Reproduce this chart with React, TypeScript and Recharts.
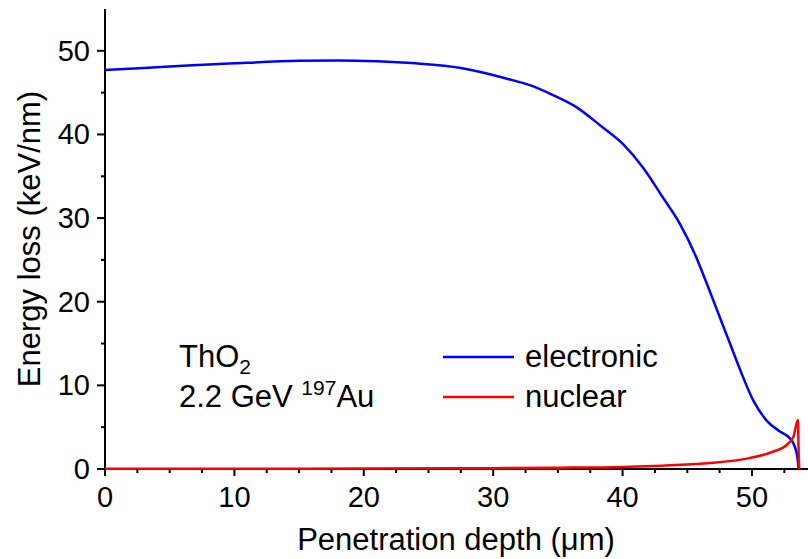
import React from 'react';
import { LineChart, Line, XAxis, YAxis, Legend } from 'recharts';

// Electronic energy loss (keV/nm) vs depth (µm)
const ELEC_X = [0, 3, 6, 10, 15, 18, 21, 24, 27.5, 31, 33, 34.5, 36.4, 38.3, 40, 41.6, 43.1, 44.4, 45.7, 46.5, 47.5, 48.3, 49.1, 50.1, 51.1, 52.2, 52.9, 53.3, 53.5, 53.6];
const ELEC_Y = [47.7, 47.95, 48.2, 48.5, 48.8, 48.85, 48.75, 48.5, 47.95, 46.7, 45.8, 44.8, 43.3, 41.05, 38.9, 36.0, 32.5, 29.4, 25.3, 22.2, 18.2, 15.0, 11.8, 8.2, 5.85, 4.45, 3.7, 2.7, 1.5, 0.1];

// Nuclear energy loss (keV/nm) vs depth (µm)
const NUC_X = [0, 10, 20, 30, 35, 40, 43, 46.5, 49.8, 51.6, 52.7, 53.2, 53.55, 53.6, 53.65];
const NUC_Y = [0.02, 0.03, 0.05, 0.1, 0.15, 0.25, 0.4, 0.68, 1.3, 2.06, 2.9, 3.85, 5.85, 2.5, 0];

const X_TICKS = [0, 2.5, 5, 7.5, 10, 12.5, 15, 17.5, 20, 22.5, 25, 27.5, 30, 32.5, 35, 37.5, 40, 42.5, 45, 47.5, 50, 52.5];
const Y_TICKS = [0, 5, 10, 15, 20, 25, 30, 35, 40, 45, 50];

const elecData = ELEC_X.map((x, i) => ({ x, y: ELEC_Y[i] }));
const nucData = NUC_X.map((x, i) => ({ x, y: NUC_Y[i] }));

const FONT = '"Liberation Sans", Arial, Helvetica, sans-serif';

const XTick = (props: any) => {
  const { x, y, payload } = props;
  const v = payload.value;
  const major = v % 10 === 0;
  return (
    <g>
      <line x1={x} x2={x} y1={y} y2={y + (major ? 7 : 4)} stroke="#000" strokeWidth={2} />
      {major && (
        <text x={x} y={y + 38} textAnchor="middle" fontSize={29} fontFamily={FONT} fill="#000">
          {v}
        </text>
      )}
    </g>
  );
};

const YTick = (props: any) => {
  const { x, y, payload } = props;
  const v = payload.value;
  const major = v % 10 === 0;
  return (
    <g>
      <line x1={x - (major ? 8 : 4)} x2={x} y1={y} y2={y} stroke="#000" strokeWidth={2} />
      {major && (
        <text x={x - 15} y={y + 10} textAnchor="end" fontSize={29} fontFamily={FONT} fill="#000">
          {v}
        </text>
      )}
    </g>
  );
};

const LegendContent = () => {
  const items = [
    { label: 'electronic', color: '#0000ff' },
    { label: 'nuclear', color: '#ff0000' },
  ];
  return (
    <div style={{ fontFamily: FONT }}>
      {items.map((it) => (
        <div key={it.label} style={{ display: 'flex', alignItems: 'center', height: 40 }}>
          <svg width={71} height={40} style={{ display: 'block' }}>
            <line x1={0} x2={71} y1={20} y2={20} stroke={it.color} strokeWidth={2.5} />
          </svg>
          <span style={{ marginLeft: 11, fontSize: 31, lineHeight: '40px', color: '#000', whiteSpace: 'nowrap' }}>{it.label}</span>
        </div>
      ))}
    </div>
  );
};

export default function App() {
  const lineExtra: any = { zIndex: 900 };
  return (
    <div style={{ position: 'absolute', left: 0, top: 0, width: 808, height: 559, background: '#fff' }}>
      <LineChart width={808} height={559} margin={{ top: 9, right: 0, bottom: 0, left: 0 }}>
        <XAxis
          type="number"
          dataKey="x"
          domain={[0, 54.33]}
          ticks={X_TICKS}
          interval={0}
          allowDataOverflow
          height={90}
          tickSize={0}
          tickMargin={0}
          tick={<XTick />}
          axisLine={{ stroke: '#000', strokeWidth: 2 }}
          tickLine={false}
        />
        <XAxis
          xAxisId="top"
          orientation="top"
          type="number"
          dataKey="x"
          domain={[0, 54.33]}
          allowDataOverflow
          height={0}
          tick={false}
          tickLine={false}
          axisLine={{ stroke: '#000', strokeWidth: 2.5 }}
        />
        <YAxis
          type="number"
          domain={[0, 55]}
          ticks={Y_TICKS}
          interval={0}
          width={105}
          tickSize={0}
          tickMargin={0}
          tick={<YTick />}
          axisLine={{ stroke: '#000', strokeWidth: 2 }}
          tickLine={false}
        />
        <Line {...lineExtra} data={elecData} dataKey="y" name="electronic" type="monotone" stroke="#0000ff" strokeWidth={2.5} dot={false} isAnimationActive={false} />
        <Line {...lineExtra} data={nucData} dataKey="y" name="nuclear" type="monotone" stroke="#ff0000" strokeWidth={2.5} dot={false} isAnimationActive={false} />
        <Legend
          layout="vertical"
          align="center"
          verticalAlign="middle"
          content={<LegendContent />}
          wrapperStyle={{ position: 'absolute', left: 443, top: 337, width: 'auto', bottom: 'auto', right: 'auto' }}
        />
      </LineChart>
      <svg width={808} height={559} style={{ position: 'absolute', left: 0, top: 0, pointerEvents: 'none' }}>
        <text x={456} y={550} textAnchor="middle" fontSize={31} fontFamily={FONT} fill="#000">
          Penetration depth (μm)
        </text>
        <text
          transform="translate(40, 239) rotate(-90)"
          x={0}
          y={0}
          textAnchor="middle"
          fontSize={31}
          fontFamily={FONT}
          fill="#000"
        >
          Energy loss (keV/nm)
        </text>
        <text x={179} y={367} fontSize={31} fontFamily={FONT} fill="#000">
          ThO<tspan fontSize={21} dy={7}>2</tspan>
        </text>
        <text x={179} y={407} fontSize={31} fontFamily={FONT} fill="#000">
          2.2 GeV <tspan fontSize={21} dy={-12}>197</tspan>
          <tspan dy={12}>Au</tspan>
        </text>
      </svg>
    </div>
  );
}
